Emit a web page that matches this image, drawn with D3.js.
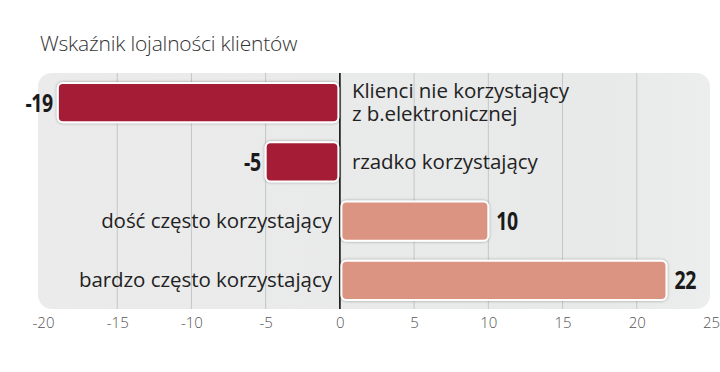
<!DOCTYPE html>
<html><head><meta charset="utf-8">
<script src="https://cdn.jsdelivr.net/npm/d3@7"></script>
<style>
html,body{margin:0;padding:0;background:#fff;}
svg{display:block;}
</style></head>
<body>
<svg id="chart" width="720" height="372"></svg>
<script>
const title = "Wskaźnik lojalności klientów";
const categories = [
  ["Klienci nie korzystający", "z b.elektronicznej"],
  ["rzadko korzystający"],
  ["dość często korzystający"],
  ["bardzo często korzystający"]
];
const values = [-19, -5, 10, 22];
const tickValues = [-20, -15, -10, -5, 0, 5, 10, 15, 20, 25];

const svg = d3.select("#chart");
const x = d3.scaleLinear().domain([-20, 25]).range([43, 711]);
const y = d3.scaleBand().domain(d3.range(values.length)).range([73, 310]).paddingInner(0.34).paddingOuter(0.17);

const defs = svg.append("defs");
const f = defs.append("filter").attr("id","sh").attr("x","-10%").attr("y","-30%").attr("width","120%").attr("height","160%");
f.append("feDropShadow").attr("dx",0).attr("dy",0).attr("stdDeviation",1.6).attr("flood-color","#000").attr("flood-opacity",0.35);

const bgGrad = defs.append("linearGradient").attr("id","bg").attr("x1","0").attr("x2","1").attr("y1","0").attr("y2","0");
bgGrad.append("stop").attr("offset","0").attr("stop-color","#ebebeb");
bgGrad.append("stop").attr("offset","0.85").attr("stop-color","#e8e9e9");
bgGrad.append("stop").attr("offset","1").attr("stop-color","#eceded");

// panel
svg.append("rect").attr("x",38).attr("y",73).attr("width",672).attr("height",236).attr("rx",14).attr("fill","url(#bg)");

// grid
svg.append("g").selectAll("line").data(tickValues.filter(t => t !== 0 && t > -20 && t < 25)).join("line")
  .attr("x1", d => x(d)).attr("x2", d => x(d)).attr("y1", 73).attr("y2", 309)
  .attr("stroke", "#c4c6c7").attr("stroke-width", 1);

// zero line
svg.append("line").attr("x1", x(0)).attr("x2", x(0)).attr("y1", 73).attr("y2", 309)
  .attr("stroke", "#111").attr("stroke-width", 1.6);

// bars
svg.append("g").selectAll("rect").data(values).join("rect")
  .attr("x", d => Math.min(x(d), x(0)) + (d < 0 ? 0 : 1.5))
  .attr("y", (d,i) => y(i))
  .attr("width", d => Math.abs(x(d) - x(0)) - 1.5)
  .attr("height", y.bandwidth())
  .attr("rx", 5)
  .attr("fill", d => d < 0 ? "#a41e34" : "#dc9482")
  .attr("stroke", "#fff").attr("stroke-width", 2)
  .attr("filter", "url(#sh)");

// value labels (condensed bold)
svg.append("g").selectAll("text").data(values).join("text")
  .attr("transform", (d,i) => `translate(${d < 0 ? x(d) - 5 : x(d) + 8},${y(i) + y.bandwidth()/2 + 9}) scale(0.78,1)`)
  .attr("text-anchor", d => d < 0 ? "end" : "start")
  .attr("font-family", "'Open Sans','DejaVu Sans',sans-serif")
  .attr("font-weight", "bold")
  .attr("font-size", 25)
  .attr("letter-spacing", -0.5)
  .attr("fill", "#1a1a1a")
  .text(d => String(d));

// category labels (one text element per line)
const lines = [];
categories.forEach((c, i) => c.forEach((t, j) => lines.push({t, i, j, n: c.length})));
svg.append("g").selectAll("text").data(lines).join("text")
  .attr("x", d => values[d.i] < 0 ? x(0) + 12 : x(0) - 8)
  .attr("y", d => y(d.i) + y.bandwidth()/2 + 7 - (d.n - 1) * 12 + d.j * 23)
  .attr("text-anchor", d => values[d.i] < 0 ? "start" : "end")
  .attr("font-family", "'Open Sans','DejaVu Sans',sans-serif")
  .attr("font-size", 20.5)
  .attr("letter-spacing", -0.05)
  .attr("fill", "#222")
  .text(d => d.t);

// axis
const axis = svg.append("g").attr("transform", "translate(0,312)")
  .call(d3.axisBottom(x).tickValues(tickValues).tickFormat(d => String(d)).tickSize(0).tickPadding(5));
axis.select(".domain").remove();
axis.selectAll("text").attr("font-family","'Open Sans','DejaVu Sans',sans-serif").attr("font-size",15).attr("fill","#555").attr("font-weight",300);

// title
svg.append("text").attr("x", 40).attr("y", 51)
  .attr("font-family","'Open Sans','DejaVu Sans',sans-serif").attr("font-weight",300)
  .attr("font-size", 21).attr("fill", "#333").attr("letter-spacing", -0.2).text(title);
</script>
</body></html>
